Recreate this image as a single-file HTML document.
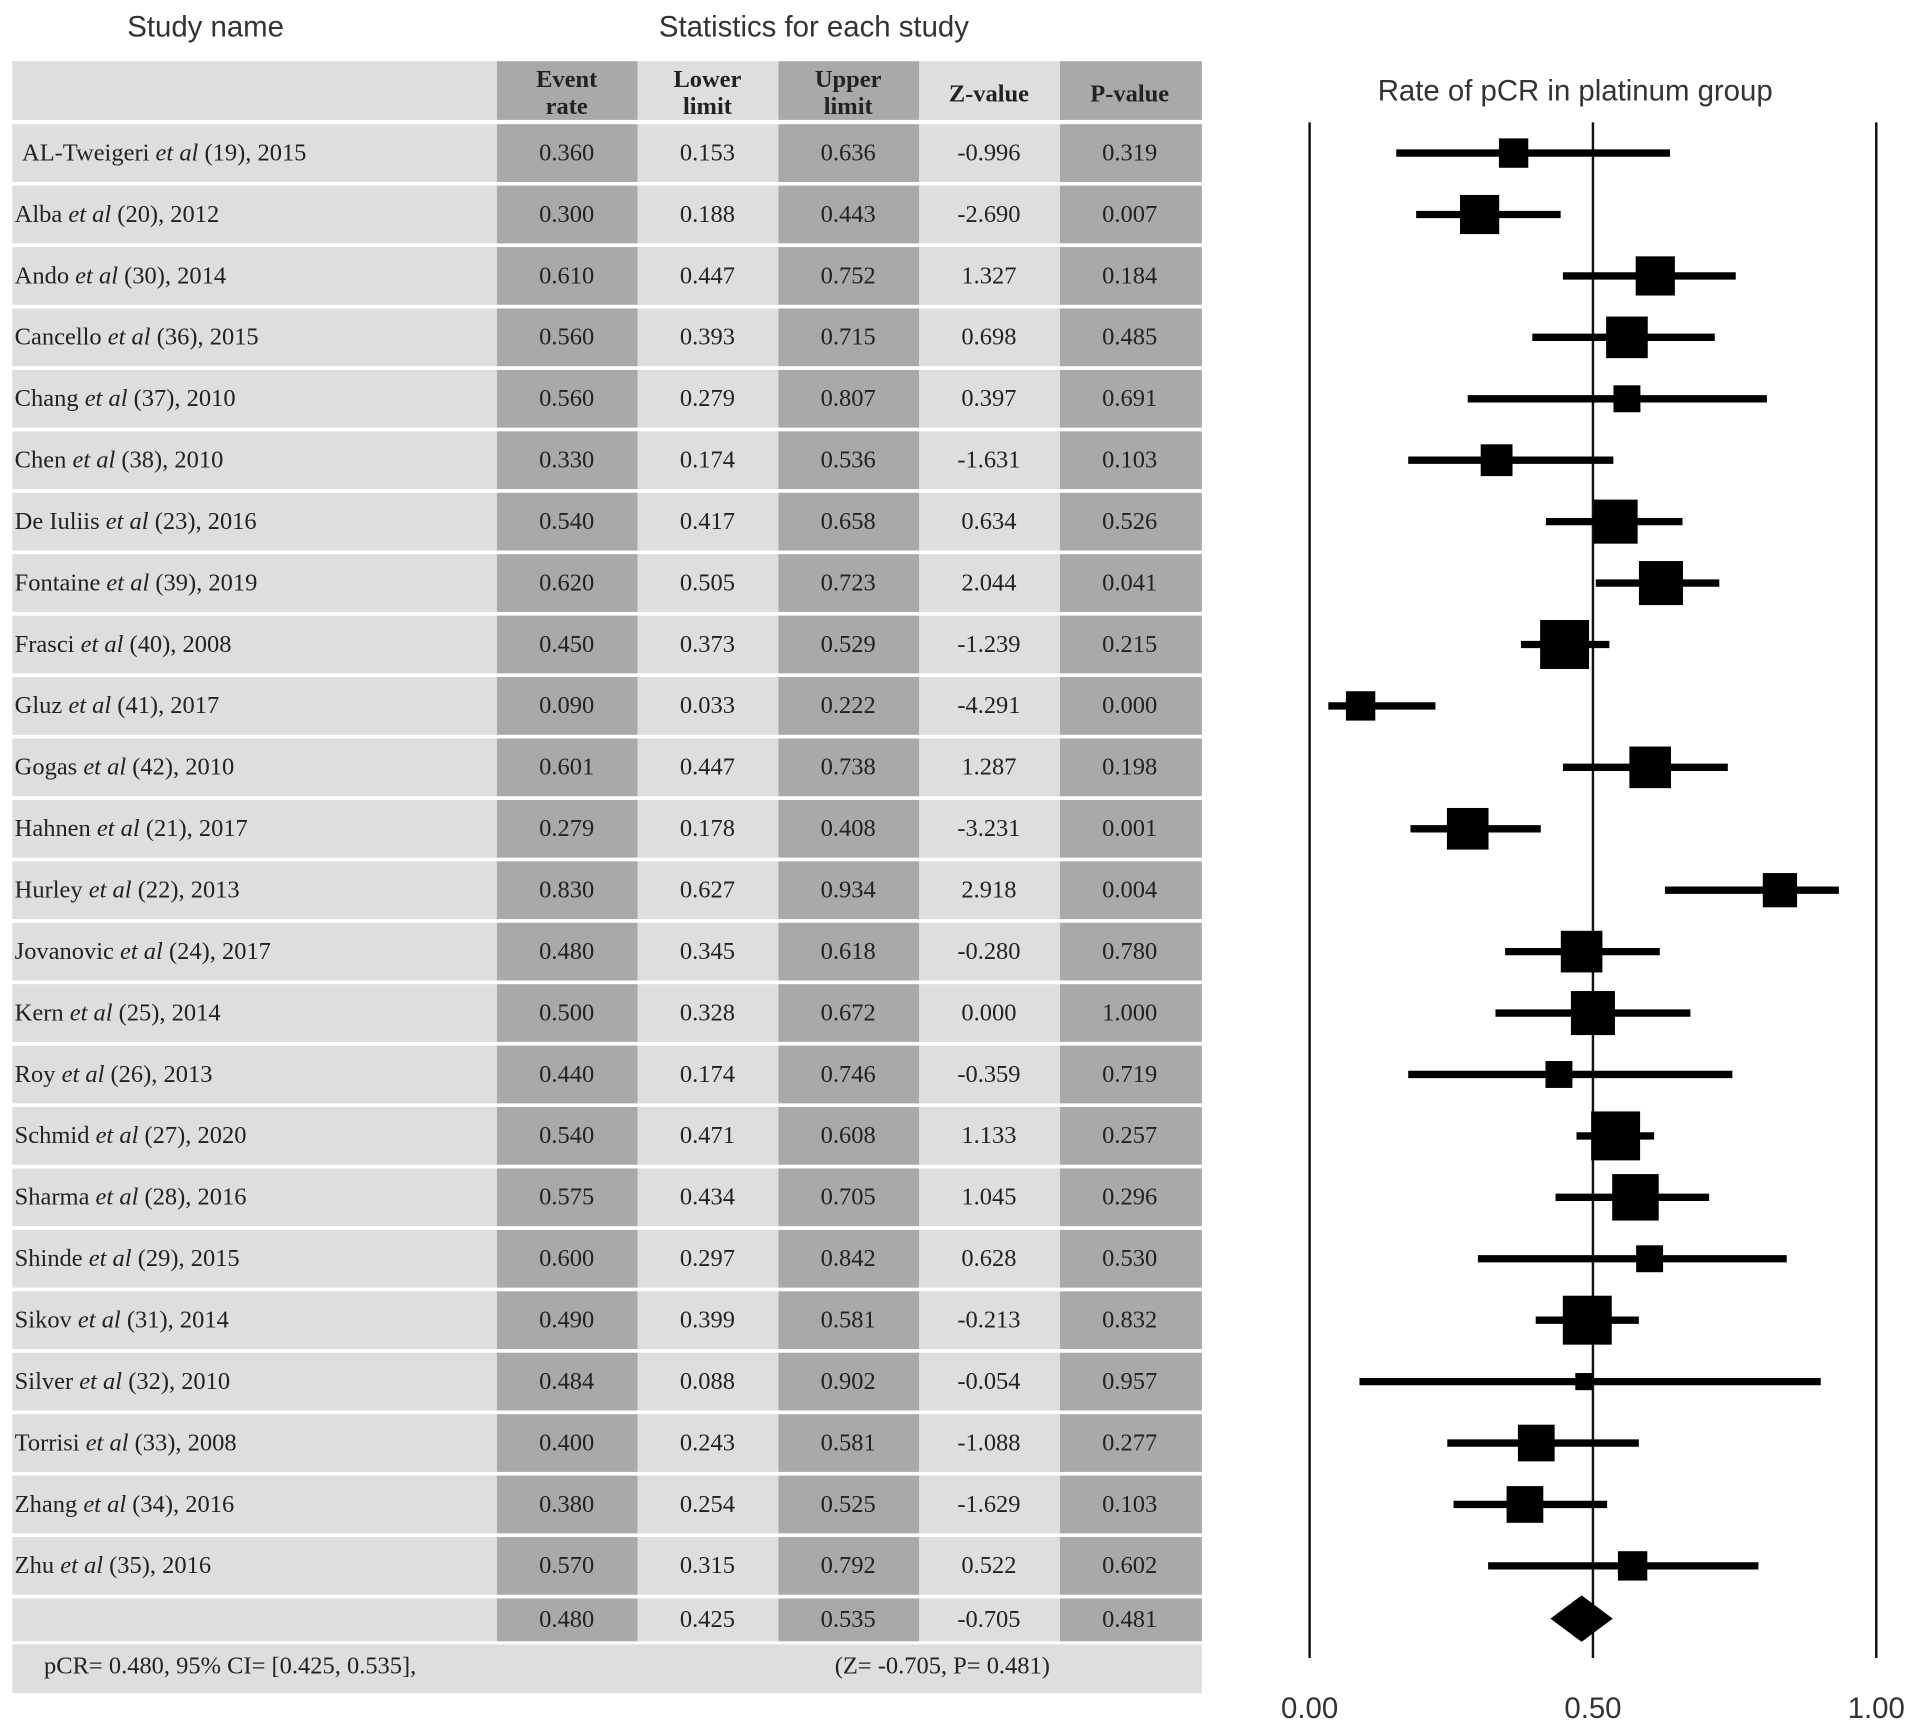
<!DOCTYPE html>
<html><head><meta charset="utf-8">
<style>
html,body{margin:0;padding:0;background:#fff;}
svg{display:block;}
.hd{font-family:"Liberation Sans",sans-serif;font-size:24px;fill:#333;}
.tb{font-family:"Liberation Serif",serif;font-size:20px;fill:#222;}
.th{font-family:"Liberation Serif",serif;font-size:20px;font-weight:bold;fill:#222;}
</style></head>
<body>
<svg id="chart" width="1913" height="1729" viewBox="0 0 1563 1413" preserveAspectRatio="none" xmlns="http://www.w3.org/2000/svg">
<text class="hd" x="168" y="30" text-anchor="middle">Study name</text>
<text class="hd" x="665" y="30" text-anchor="middle">Statistics for each study</text>
<text class="hd" x="1287" y="82" text-anchor="middle">Rate of pCR in platinum group</text>
<g id="table"></g>
<g id="plot"></g>
</svg>
<script>
const studies=["AL-Tweigeri|(19), 2015","Alba|(20), 2012","Ando|(30), 2014","Cancello|(36), 2015","Chang|(37), 2010","Chen|(38), 2010","De Iuliis|(23), 2016","Fontaine|(39), 2019","Frasci|(40), 2008","Gluz|(41), 2017","Gogas|(42), 2010","Hahnen|(21), 2017","Hurley|(22), 2013","Jovanovic|(24), 2017","Kern|(25), 2014","Roy|(26), 2013","Schmid|(27), 2020","Sharma|(28), 2016","Shinde|(29), 2015","Sikov|(31), 2014","Silver|(32), 2010","Torrisi|(33), 2008","Zhang|(34), 2016","Zhu|(35), 2016"];
const eventRate=[0.360,0.300,0.610,0.560,0.560,0.330,0.540,0.620,0.450,0.090,0.601,0.279,0.830,0.480,0.500,0.440,0.540,0.575,0.600,0.490,0.484,0.400,0.380,0.570];
const lowerLimit=[0.153,0.188,0.447,0.393,0.279,0.174,0.417,0.505,0.373,0.033,0.447,0.178,0.627,0.345,0.328,0.174,0.471,0.434,0.297,0.399,0.088,0.243,0.254,0.315];
const upperLimit=[0.636,0.443,0.752,0.715,0.807,0.536,0.658,0.723,0.529,0.222,0.738,0.408,0.934,0.618,0.672,0.746,0.608,0.705,0.842,0.581,0.902,0.581,0.525,0.792];
const zValue=["-0.996","-2.690","1.327","0.698","0.397","-1.631","0.634","2.044","-1.239","-4.291","1.287","-3.231","2.918","-0.280","0.000","-0.359","1.133","1.045","0.628","-0.213","-0.054","-1.088","-1.629","0.522"];
const pValue=["0.319","0.007","0.184","0.485","0.691","0.103","0.526","0.041","0.215","0.000","0.198","0.001","0.004","0.780","1.000","0.719","0.257","0.296","0.530","0.832","0.957","0.277","0.103","0.602"];
const weights=[12,16,16,17,11,13,18,18,20,12,17,17,14,17,18,11,20,19,11,20,7,15,15,12];
const summaryVals=[0.480,0.425,0.535];
const summaryStats=["0.480","0.425","0.535","-0.705","0.481"];
const tickVals=[0,0.5,1];
const tickLabels=["0.00","0.50","1.00"];

const NS="http://www.w3.org/2000/svg";
function mk(tag,attrs,parent,txt){const e=document.createElementNS(NS,tag);for(const k in attrs)e.setAttribute(k,attrs[k]);if(txt!==undefined)e.textContent=txt;parent.appendChild(e);return e;}
const tbl=document.getElementById('table'), plot=document.getElementById('plot');
const colX=[406,521,636,751,866,982], colCx=[463,578,693,808,923];
const colFill=["#a9a9a9","#dedede","#a9a9a9","#dedede","#a9a9a9"];
const rowTop=i=>100+i*50.2, rowH=50.2;
let r=mk('rect',{x:10,y:50,width:396,height:48,fill:'#dedede'},tbl);

const hdr=[["Event","rate"],["Lower","limit"],["Upper","limit"],["Z-value"],["P-value"]];
for(let c=0;c<5;c++){
 const rc=mk('rect',{x:colX[c],y:50,width:colX[c+1]-colX[c],height:48,fill:colFill[c]},tbl);
 
 if(hdr[c].length==2){mk('text',{class:'th','text-anchor':'middle',x:colCx[c],y:71},tbl,hdr[c][0]);mk('text',{class:'th','text-anchor':'middle',x:colCx[c],y:93},tbl,hdr[c][1]);}
 else mk('text',{class:'th','text-anchor':'middle',x:colCx[c],y:83},tbl,hdr[c][0]);
}
function row(i,name,vals){
 const y=rowTop(i);
 const b=mk('rect',{x:10,y:y+1.5,width:396,height:rowH-3,fill:'#dedede'},tbl);
 
 for(let c=0;c<5;c++){
  mk('rect',{x:colX[c],y:y+1.5,width:colX[c+1]-colX[c],height:rowH-3,fill:colFill[c]},tbl);
  mk('text',{class:'tb','text-anchor':'middle',x:colCx[c],y:y+rowH/2+6},tbl,vals[c]);
 }
 if(name){const p=name.split('|');const t=mk('text',{class:'tb',x:i==0?18:12,y:y+rowH/2+6,'font-size':'21'},tbl);
  
  mk('tspan',{},t,p[0]+' ');mk('tspan',{'font-style':'italic'},t,'et al');mk('tspan',{},t,' '+p[1]);}
}
studies.forEach((s,i)=>row(i,s,[eventRate[i].toFixed(3),lowerLimit[i].toFixed(3),upperLimit[i].toFixed(3),zValue[i],pValue[i]]));
const sy=rowTop(24);
mk('rect',{x:10,y:sy+1.5,width:396,height:35,fill:'#dedede'},tbl);
for(let c=0;c<5;c++){mk('rect',{x:colX[c],y:sy+1.5,width:colX[c+1]-colX[c],height:35,fill:colFill[c]},tbl);
 mk('text',{class:'tb','text-anchor':'middle',x:colCx[c],y:sy+25},tbl,summaryStats[c]);}
const fr=mk('rect',{x:10,y:sy+39,width:972,height:40,fill:'#dedede'},tbl);

mk('text',{class:'tb',x:36,y:sy+63},tbl,'pCR= 0.480, 95% CI= [0.425, 0.535],');
mk('text',{class:'tb',x:682,y:sy+63},tbl,'(Z= -0.705, P= 0.481)');
const X0=1070,X1=1533,sx=v=>X0+v*(X1-X0);
tickVals.forEach((v,k)=>{
 const l=mk('line',{x1:sx(v),x2:sx(v),y1:100,y2:1355,stroke:'#111','stroke-width':2},plot);
 
 const t=mk('text',{class:'hd','text-anchor':'middle',x:sx(v),y:1404},plot,tickLabels[k]);
 
});
studies.forEach((s,i)=>{
 const cy=rowTop(i)+rowH/2;
 const ci=mk('line',{x1:sx(lowerLimit[i]),x2:sx(upperLimit[i]),y1:cy,y2:cy,stroke:'#000','stroke-width':6},plot);
 
 const w=weights[i];
 const sq=mk('rect',{x:sx(eventRate[i])-w,y:cy-w,width:2*w,height:2*w,fill:'#000'},plot);
 
});
const dy=rowTop(24)+18;
const dm=mk('polygon',{points:`${sx(summaryVals[1])},${dy} ${sx(summaryVals[0])},${dy-19} ${sx(summaryVals[2])},${dy} ${sx(summaryVals[0])},${dy+19}`,fill:'#000'},plot);

</script>
</body></html>
